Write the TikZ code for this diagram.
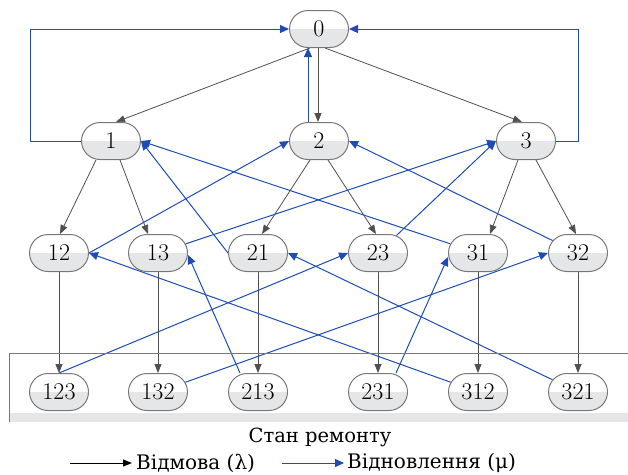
\documentclass[tikz,border=0pt]{standalone}
\usepackage{fontspec}
\newfontfamily\dvs{DejaVu Serif}
\usetikzlibrary{shapes.misc,arrows.meta}
\definecolor{fblue}{RGB}{30,75,180}
\definecolor{fgray}{RGB}{80,80,80}
\definecolor{nodegray}{RGB}{228,230,232}
\definecolor{bordergray}{RGB}{120,120,120}
\pgfdeclarelayer{background}
\pgfsetlayers{background,main}
\begin{document}
\begin{tikzpicture}[x=1pt,y=-1pt,
  state/.style={rounded rectangle, draw=bordergray, line width=1pt, fill=white,
    minimum width=59pt, minimum height=37pt, inner sep=0pt,
    font=\fontsize{24}{26}\selectfont,
    path picture={\fill[nodegray] (path picture bounding box.west) rectangle (path picture bounding box.south east);}},
  fail/.style={draw=fgray, line width=0.8pt, -{Triangle[length=9pt,width=7pt]}},
  rep/.style={draw=fblue, line width=1pt, -{Triangle[length=9pt,width=8pt]}},
  lbl/.style={font=\dvs\fontsize{20}{23}\selectfont, inner sep=0pt},
]
\useasboundingbox (0,0) rectangle (628,474);

% repair-state box
\fill[nodegray] (9,413) rectangle (628,422);
\draw[bordergray, line width=1pt] (9,422) -- (9,353) -- (628,353);

% nodes
\node[state] (n0) at (319,29) {0};
\node[state] (n1) at (111,141) {1};
\node[state] (n2) at (319,141) {2};
\node[state] (n3) at (526,141) {3};

\node[state] (n12) at (59,253) {12};
\node[state] (n13) at (158,253) {13};
\node[state] (n21) at (258,253) {21};
\node[state] (n23) at (378,253) {23};
\node[state] (n31) at (478,253) {31};
\node[state] (n32) at (578,253) {32};

\node[state] (n123) at (59,392) {123};
\node[state] (n132) at (158,392) {132};
\node[state] (n213) at (258,392) {213};
\node[state] (n231) at (378,392) {231};
\node[state] (n312) at (478,392) {312};
\node[state] (n321) at (578,392) {321};

\node[lbl, font=\dvs\fontsize{19.5}{22}\selectfont] (title) at (320,437) {Стан ремонту};

\coordinate (lc) at (30,29);
\coordinate (rc) at (578,29);

\begin{pgfonlayer}{background}
% failures
\draw[fail] ([xshift=-9pt]n0.south) -- ([xshift=5pt]n1.north);
\draw[fail] ([xshift=-1pt]n0.south) -- ([xshift=-1pt]n2.north);
\draw[fail] ([xshift=6pt]n0.south) -- ([xshift=-4pt]n3.north);
\draw[fail] ([xshift=-15pt]n1.south) -- ([xshift=1pt]n12.north);
\draw[fail] ([xshift=9pt]n1.south) -- ([xshift=-10pt]n13.north);
\draw[fail] ([xshift=-9pt]n2.south) -- ([xshift=4pt]n21.north);
\draw[fail] ([xshift=9pt]n2.south) -- ([xshift=-2pt]n23.north);
\draw[fail] ([xshift=-8pt]n3.south) -- ([xshift=12pt]n31.north);
\draw[fail] ([xshift=10pt]n3.south) -- ([xshift=-2pt]n32.north);
\draw[fail] (n12) -- (n123);
\draw[fail] (n13) -- (n132);
\draw[fail] (n21) -- (n213);
\draw[fail] (n23) -- (n231);
\draw[fail] (n31) -- (n312);
\draw[fail] (n32) -- (n321);

% repairs
\draw[rep] (n1.west) -| (lc) -- (n0.west);
\draw[rep] (n3.east) -| (rc) -- (n0.east);
\draw[rep] ([xshift=-11pt]n2.north) -- ([xshift=-11pt]n0.south);
\draw[rep] (n12.east) -- (n2.west);
\draw[rep] (n13) -- (n3.west);
\draw[rep] (n21.west) -- (n1.east);
\draw[rep] (n23) -- (n3.west);
\draw[rep] (n31) -- (n1.east);
\draw[rep] (n32) -- (n2.east);
\draw[rep] (n123.north) -- (n23.west);
\draw[rep] (n132) -- (n32.west);
\draw[rep] ([xshift=-18pt]n213.north) -- ([yshift=-2pt]n13.east);
\draw[rep] ([xshift=18pt]n231.north) -- ([yshift=-4pt]n31.west);
\draw[rep] (n312) -- (n12.east);
\draw[rep] (n321) -- (n21.east);
\end{pgfonlayer}

% legend
\coordinate (la1) at (70,463);
\coordinate (la2) at (132,463);
\coordinate (lb1) at (282,463);
\coordinate (lb2) at (344,463);
\draw[black, line width=1pt, -{Triangle[length=9pt,width=7pt]}] (la1) -- (la2);
\draw[fblue, line width=1pt, -{Triangle[length=9pt,width=8pt]}] (lb1) -- (lb2);
\node[lbl, anchor=west] (lt1) at (136,463) {Відмова (λ)};
\node[lbl, anchor=west] (lt2) at (347,463) {Відновлення (μ)};
\end{tikzpicture}
\end{document}
